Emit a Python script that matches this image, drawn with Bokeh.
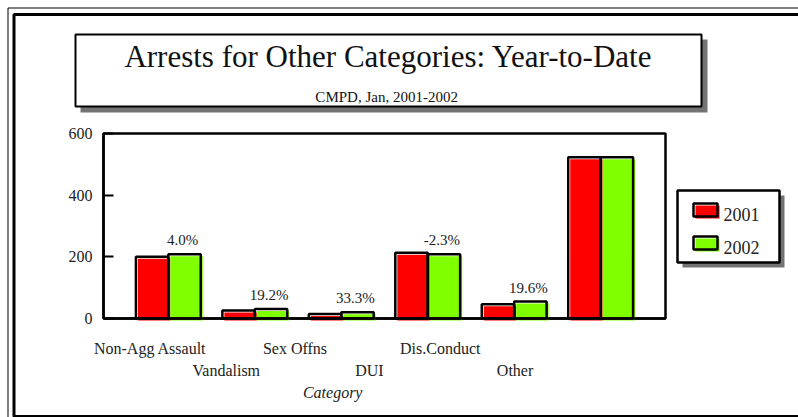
from bokeh.plotting import figure
from bokeh.models import Range1d, LinearAxis, FixedTicker, BoxAnnotation, Label, ColumnDataSource
from bokeh.embed import file_html
from bokeh.resources import INLINE
from bokeh.core.properties import value

# ---------------- data ----------------
categories = ["Non-Agg Assault", "Vandalism", "Sex Offns", "DUI", "Dis.Conduct", "Other"]
arrests_2001 = [200, 26, 15, 213, 46, 523]
arrests_2002 = [208, 31, 20, 208, 55, 523]
pct_labels = ["4.0%", "19.2%", "33.3%", "-2.3%", "19.6%", ""]
series_names = ["2001", "2002"]
y_ticks = [0, 200, 400, 600]

# label placement quirk of the original (tick label positions, in category units)
label_pos = [0.79, 1.67, 2.465, 3.325, 4.145, 5.01]

FONT = "Liberation Serif"
RED = "#ff0000"
GREEN = "#80ff00"
SHADOW = "#737373"
TXT = "#222222"

# ---------------- layout (pixels) ----------------
W, H = 798, 417
FL, FR, FT, FB = 103, 665, 133, 318          # chart box on the canvas
X0, X1, Y0, Y1 = 0.25, 6.75, 0, 600          # chart box in data units
px_x = (X1 - X0) / (FR - FL)
px_y = (Y1 - Y0) / (FB - FT)
BW = 0.375

x_range = Range1d(X0 - FL * px_x, X0 + (W - FL) * px_x)
y_range = Range1d(Y0 - (H - FB) * px_y, Y1 + FT * px_y)

p = figure(width=W, height=H, x_range=x_range, y_range=y_range,
           x_axis_type=None, output_backend="svg", toolbar_location=None,
           min_border=0)
p.background_fill_color = "white"
p.border_fill_color = "white"
p.outline_line_color = None
p.xgrid.visible = False
p.ygrid.visible = False

# y axis
ya = p.yaxis[0]
ya.fixed_location = X0
ya.bounds = (Y0, Y1)
ya.ticker = FixedTicker(ticks=y_ticks)
ya.major_tick_in = 10
ya.major_tick_out = 0
ya.minor_tick_line_color = None
ya.axis_line_width = 2.5
ya.axis_line_color = "black"
ya.major_tick_line_width = 2
ya.major_label_text_font = FONT
ya.major_label_text_font_size = "16px"
ya.major_label_text_color = TXT
ya.major_label_standoff = 11

# x axes (staggered labels)
def make_xaxis(idx, standoff, show_line):
    ax = LinearAxis(ticker=FixedTicker(ticks=[label_pos[i] for i in idx]),
                    major_label_overrides={label_pos[i]: categories[i] for i in idx},
                    fixed_location=Y0, bounds=(X0, X1))
    ax.major_tick_line_color = None
    ax.minor_tick_line_color = None
    ax.axis_line_color = "black" if show_line else None
    ax.axis_line_width = 2.5
    ax.major_label_text_font = FONT
    ax.major_label_text_font_size = "16px"
    ax.major_label_text_color = TXT
    ax.major_label_standoff = standoff
    return ax

p.add_layout(make_xaxis([0, 2, 4], 15, True), "below")
p.add_layout(make_xaxis([1, 3, 5], 37, False), "below")

# chart box (top and right edges)
p.add_layout(BoxAnnotation(left=X0, right=X1, bottom=Y0, top=Y1, fill_alpha=0,
                           line_color="black", line_alpha=1, line_width=2.5, level="underlay"))

# bars
pos = list(range(1, len(categories) + 1))
src = ColumnDataSource(dict(
    l1=[c - BW for c in pos], r1=pos, l2=pos, r2=[c + BW for c in pos],
    v1=arrests_2001, v2=arrests_2002,
    f1l=[c - BW + 2 * px_x for c in pos], f1r=[c + 2 * px_x for c in pos],
    f2l=[c + 2 * px_x for c in pos], f2r=[c + BW + 2 * px_x for c in pos],
    v1s=[v - 2 * px_y for v in arrests_2001], v2s=[v - 2 * px_y for v in arrests_2002],
    lx=[c + BW / 2 for c in pos], lab=pct_labels,
))
fb = Y0 - 2 * px_y
p.quad(left="f1l", right="f1r", top="v1s", bottom=fb, source=src, fill_color=RED, line_color=None)
p.quad(left="f2l", right="f2r", top="v2s", bottom=fb, source=src, fill_color=GREEN, line_color=None)
p.quad(left="l1", right="r1", top="v1", bottom=Y0, source=src, fill_color=None, line_color="black", line_width=2.5)
p.quad(left="l2", right="r2", top="v2", bottom=Y0, source=src, fill_color=None, line_color="black", line_width=2.5)
p.text(x="lx", y="v2", text="lab", source=src, text_font=value(FONT), text_font_size="15px",
       text_color=TXT, text_align="center", text_baseline="bottom", y_offset=-6, x_offset=-2)

# helpers: canvas pixel (x right, y down) -> screen units (x right, y up)
def sy(y):
    return H - y

def box(l, t, r, b, fill=None, line=None, lw=1):
    return BoxAnnotation(left=l, right=r, top=sy(t), bottom=sy(b),
                         left_units="screen", right_units="screen", top_units="screen", bottom_units="screen",
                         fill_color=fill if fill else "white", fill_alpha=1 if fill else 0,
                         line_color=line if line else "white", line_alpha=1 if line else 0, line_width=lw)

def label(x, y, text, size, align="center", style="normal", color="#111111"):
    return Label(x=x, y=sy(y), x_units="screen", y_units="screen", text=text,
                 text_font=FONT, text_font_size=size, text_font_style=style, text_color=color,
                 text_align=align, text_baseline="middle")

# outer frame
p.add_layout(box(7.5, 7.5, 3000, 3000, line="black", lw=1))
p.add_layout(box(13.5, 14, 3000, 416, line="black", lw=3))

# title box with shadow
p.add_layout(box(80, 39, 707, 112, fill=SHADOW))
p.add_layout(box(75, 34, 701, 106, fill="white", line="black", lw=2))
p.add_layout(label(388, 56, "Arrests for Other Categories: Year-to-Date", "31px"))
p.add_layout(label(388, 96, "CMPD, Jan,  2001-2002", "15px"))

# legend with shadow
p.add_layout(box(682, 195, 784, 267, fill=SHADOW))
p.add_layout(box(677, 190, 779, 262, fill="white", line="black", lw=2.5))
for i, (name, col) in enumerate(zip(series_names, [RED, GREEN])):
    top = 203 + i * 33
    p.add_layout(box(695, top + 2, 719, top + 15, fill=col))
    p.add_layout(box(693, top, 717, top + 13, line="black", lw=2.5))
    p.add_layout(label(723, top + 11, name, "18px", align="left", color=TXT))

# axis title (placed off-centre like the original)
p.add_layout(Label(x=sum(label_pos) / len(label_pos), y=sy(392), x_units="data", y_units="screen",
                   text="Category", text_font=FONT, text_font_size="16px", text_font_style="italic",
                   text_color=TXT, text_align="center", text_baseline="middle"))

open("out.html", "w").write(file_html(p, INLINE))
